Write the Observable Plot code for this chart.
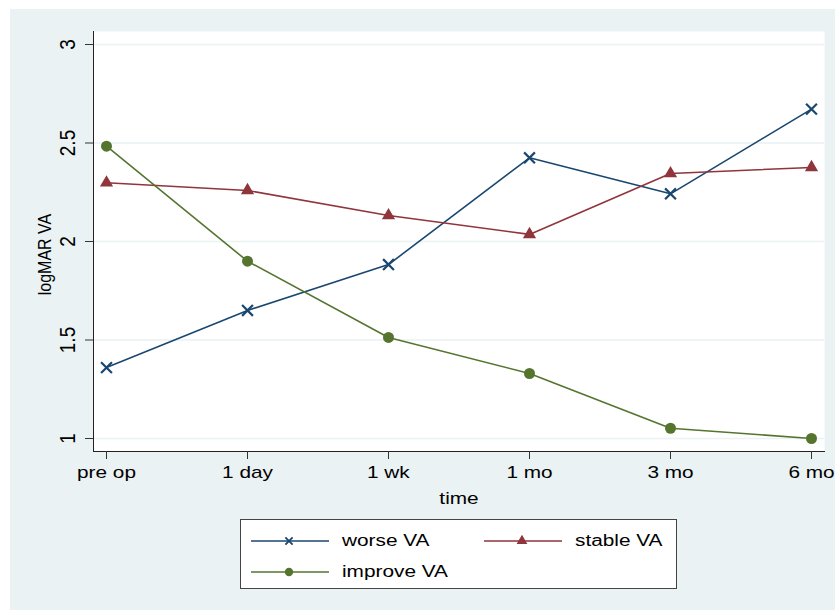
<!DOCTYPE html>
<html>
<head>
<meta charset="utf-8">
<script src="https://cdn.jsdelivr.net/npm/d3@7"></script>
<script src="https://cdn.jsdelivr.net/npm/@observablehq/plot@0.6"></script>
<style>
  html, body { margin: 0; padding: 0; background: #ffffff; }
  #wrap { position: relative; width: 835px; height: 610px; background: #ffffff; overflow: hidden;
          font-family: "Liberation Sans", Arial, Helvetica, sans-serif; }
  #bg { position: absolute; left: 10px; top: 9px; width: 825px; height: 601px; background: #eaf2f3; }
  #chart { position: absolute; left: 10px; top: 9px; }
  #legend { position: absolute; left: 240px; top: 519px; width: 437px; height: 70px; box-sizing: border-box;
            border: 1px solid #444; background: #ffffff; }
  .item { position: absolute; height: 20px; }
  .item svg { position: absolute; left: 0; top: 0; }
  .item span { position: absolute; top: 0; line-height: 20px; font-size: 16px; color: #000;
               white-space: nowrap; transform: scaleX(1.3); transform-origin: left center; }
</style>
</head>
<body>
<div id="wrap">
  <div id="bg"></div>
  <div id="chart"></div>
  <div id="legend"></div>
</div>
<script>
const categories = ["pre op", "1 day", "1 wk", "1 mo", "3 mo", "6 mo"];
const seriesNames = ["worse VA", "stable VA", "improve VA"];
const seriesColors = ["#1a476f", "#90353b", "#55752f"];
const seriesSymbols = ["times", "triangle", "circle"];
const worseVA = [1.36, 1.65, 1.883, 2.425, 2.242, 2.672];
const stableVA = [2.298, 2.259, 2.132, 2.036, 2.345, 2.376];
const improveVA = [2.484, 1.90, 1.513, 1.33, 1.052, 1.0];
const yTicks = [1, 1.5, 2, 2.5, 3];

const seriesValues = [worseVA, stableVA, improveVA];
const rows = seriesNames.flatMap((name, s) =>
  categories.map((c, i) => ({ time: c, value: seriesValues[s][i], series: name })));

const dotMarks = seriesNames.map((name, s) => {
  const data = rows.filter(d => d.series === name);
  const sym = seriesSymbols[s];
  if (sym === "times") {
    return Plot.dot(data, { x: "time", y: "value", symbol: "times", r: 5, stroke: seriesColors[s], strokeWidth: 2.2, fill: "none" });
  } else if (sym === "triangle") {
    return Plot.dot(data, { x: "time", y: "value", symbol: "triangle", r: 4.9, fill: seriesColors[s], stroke: "none" });
  }
  return Plot.dot(data, { x: "time", y: "value", symbol: "circle", r: 5.5, fill: seriesColors[s], stroke: "none" });
});

const chart = Plot.plot({
  width: 825,
  height: 501,
  marginLeft: 83,
  marginRight: 11,
  marginTop: 22,
  marginBottom: 59,
  style: { background: "#eaf2f3", fontFamily: "'Liberation Sans', Arial, Helvetica, sans-serif", fontSize: "16px", color: "#000" },
  x: { type: "point", domain: categories, padding: 0, insetLeft: 13, insetRight: 13, label: null },
  y: { domain: [1, 3], insetTop: 13, insetBottom: 13, label: null },
  color: { domain: seriesNames, range: seriesColors },
  marks: [
    Plot.frame({ fill: "white", stroke: null }),
    Plot.gridY(yTicks, { stroke: "#eaf2f3", strokeOpacity: 1, strokeWidth: 1.6 }),
    Plot.frame({ anchor: "left", stroke: "#222", strokeWidth: 1 }),
    Plot.frame({ anchor: "bottom", stroke: "#222", strokeWidth: 1 }),
    Plot.axisY({ ticks: yTicks, tickSize: 8, tickFormat: () => "", stroke: "#333", label: null }),
    Plot.text(yTicks, { y: d => d, text: d => String(d), frameAnchor: "left", dx: -25, rotate: -90,
      textAnchor: "middle", lineAnchor: "middle", fontSize: 19, fill: "#000" }),
    Plot.axisX({ tickSize: 8, tickPadding: 7.5, fontSize: 16, stroke: "#333", fill: "#000", label: null }),
    Plot.text(["time"], { frameAnchor: "bottom", dy: 41, lineAnchor: "top", textAnchor: "middle", fontSize: 16, fill: "#000" }),
    Plot.text(["logMAR VA"], { frameAnchor: "left", dx: -48, dy: 13, rotate: -90, textAnchor: "middle",
      lineAnchor: "middle", fontSize: 16, fill: "#000" }),
    Plot.line(rows, { x: "time", y: "value", z: "series", stroke: "series", strokeWidth: 1.6 }),
    ...dotMarks
  ]
});
document.getElementById("chart").appendChild(chart);

// Horizontal (screen-space) stretch of texts: the reference's lettering is wide
chart.querySelectorAll("text").forEach(t => {
  if (!t.textContent.trim()) return;
  const own = t.getAttribute("transform") || "";
  const parent = (t.parentNode && t.parentNode.getAttribute && t.parentNode.getAttribute("transform")) || "";
  const b = t.getBBox();
  if (own.includes("rotate") || parent.includes("rotate")) {
    const cy = b.y + b.height / 2;
    t.setAttribute("transform", `${own} translate(0,${cy}) scale(1,1.12) translate(0,${-cy})`.trim());
  } else {
    const cx = b.x + b.width / 2;
    t.setAttribute("transform", `${own} translate(${cx},0) scale(1.3,1) translate(${-cx},0)`.trim());
  }
});

// Legend
const legend = d3.select("#legend");
const items = [
  { s: 0, left: 10, top: 11 },
  { s: 1, left: 243, top: 11 },
  { s: 2, left: 10, top: 42 }
];
items.forEach(({ s, left, top }) => {
  const div = legend.append("div").attr("class", "item").style("left", left + "px").style("top", top + "px");
  const svg = div.append("svg").attr("width", 80).attr("height", 20);
  svg.append("line").attr("x1", 0).attr("x2", 78).attr("y1", 10).attr("y2", 10)
    .attr("stroke", seriesColors[s]).attr("stroke-width", 1.6);
  const sym = seriesSymbols[s];
  if (sym === "times") {
    svg.append("path").attr("transform", "translate(38,10)")
      .attr("d", d3.symbol(d3.symbolTimes, 36)()).attr("stroke", seriesColors[s]).attr("stroke-width", 1.8).attr("fill", "none");
  } else if (sym === "triangle") {
    svg.append("path").attr("transform", "translate(38,10)")
      .attr("d", d3.symbol(d3.symbolTriangle, 50)()).attr("fill", seriesColors[s]);
  } else {
    svg.append("path").attr("transform", "translate(38,10)")
      .attr("d", d3.symbol(d3.symbolCircle, 55)()).attr("fill", seriesColors[s]);
  }
  div.append("span").style("left", "91px").text(seriesNames[s]);
});
</script>
</body>
</html>
